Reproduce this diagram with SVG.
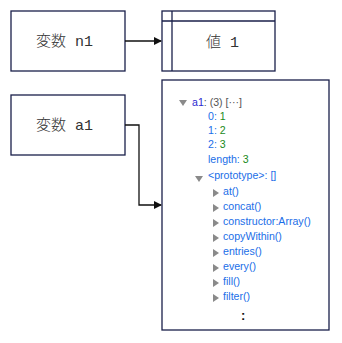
<svg xmlns="http://www.w3.org/2000/svg" width="342" height="343" viewBox="0 0 342 343">
<defs>
<style>
.box{fill:#fff;stroke:#1a1f4a;stroke-width:1.3}
.lbl{font-family:"Liberation Mono","Noto Sans CJK JP",monospace;font-size:15px;font-weight:300;fill:#333}
.t{font-family:"Liberation Sans","Noto Sans",sans-serif;font-size:10.6px}
.k{fill:#1a6ee8}
.v{fill:#1a8a1a}
.g{fill:#555}
.n{fill:#2a2ad0}
.tri{fill:#8a8a8a}
.edge{fill:none;stroke:#111;stroke-width:1.3}
</style>
<marker id="ah" markerWidth="8" markerHeight="8" refX="7" refY="4" orient="auto" markerUnits="userSpaceOnUse">
<path d="M0,0 L8,4 L0,8 z" fill="#111"/>
</marker>
</defs>
<rect width="342" height="343" fill="#fff"/>
<g id="node-n1">
<rect class="box" x="11" y="11" width="114" height="60"/>
<text class="lbl" x="36" y="46">変数 n1</text>
</g>
<g id="node-val1">
<rect class="box" x="162" y="11" width="113" height="60"/>
<line class="box" x1="162" y1="21" x2="275" y2="21"/>
<line class="box" x1="172" y1="11" x2="172" y2="71"/>
<text class="lbl" x="206" y="47">値 1</text>
</g>
<g id="node-a1">
<rect class="box" x="11" y="95" width="114" height="60"/>
<text class="lbl" x="36" y="130">変数 a1</text>
</g>
<g id="node-array">
<rect class="box" x="162" y="80" width="167" height="250"/>
<g class="t">
<path class="tri" d="M179,100 L187,100 L183,106 z"/>
<text x="192" y="106"><tspan class="n">a1</tspan><tspan class="g">: (3) [···]</tspan></text>
<text x="208" y="120"><tspan class="k">0: </tspan><tspan class="v">1</tspan></text>
<text x="208" y="134"><tspan class="k">1: </tspan><tspan class="v">2</tspan></text>
<text x="208" y="148"><tspan class="k">2: </tspan><tspan class="v">3</tspan></text>
<text x="208" y="163"><tspan class="k">length: </tspan><tspan class="v">3</tspan></text>
<path class="tri" d="M195,176 L203,176 L199,182 z"/>
<text x="208" y="179" class="k">&lt;prototype&gt;: []</text>
<path class="tri" d="M213,189 L219,193 L213,197 z"/>
<text x="223" y="195" class="k">at()</text>
<path class="tri" d="M213,204 L219,208 L213,212 z"/>
<text x="223" y="210" class="k">concat()</text>
<path class="tri" d="M213,219 L219,223 L213,227 z"/>
<text x="223" y="225" class="k">constructor:Array()</text>
<path class="tri" d="M213,234 L219,238 L213,242 z"/>
<text x="223" y="240" class="k">copyWithin()</text>
<path class="tri" d="M213,249 L219,253 L213,257 z"/>
<text x="223" y="255" class="k">entries()</text>
<path class="tri" d="M213,264 L219,268 L213,272 z"/>
<text x="223" y="270" class="k">every()</text>
<path class="tri" d="M213,279 L219,283 L213,287 z"/>
<text x="223" y="285" class="k">fill()</text>
<path class="tri" d="M213,294 L219,298 L213,302 z"/>
<text x="223" y="300" class="k">filter()</text>
<text x="241" y="320" style="font-size:13px;font-weight:bold" fill="#111">:</text>
</g>
</g>
<g id="connectors">
<path class="edge" d="M125,41 L161,41" marker-end="url(#ah)"/>
<path class="edge" d="M125,125 L139,125 L139,205 L161,205" marker-end="url(#ah)"/>
</g>
</svg>
